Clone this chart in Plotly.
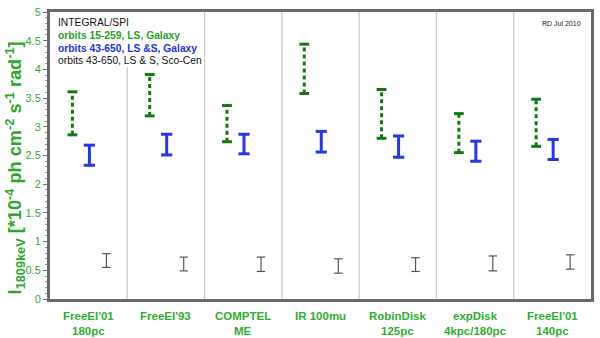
import plotly.graph_objects as go

# ---- data ----
cat_line1 = ["FreeEl'01", "FreeEl'93", "COMPTEL", "IR 100mu", "RobinDisk", "expDisk", "FreeEl'01"]
cat_line2 = ["180pc", "", "ME", "", "125pc", "4kpc/180pc", "140pc"]

green_lo = [2.86, 3.19, 2.74, 3.58, 2.80, 2.55, 2.66]
green_hi = [3.61, 3.91, 3.37, 4.44, 3.65, 3.23, 3.48]
blue_lo = [2.33, 2.51, 2.53, 2.56, 2.47, 2.40, 2.43]
blue_hi = [2.68, 2.87, 2.87, 2.92, 2.84, 2.75, 2.78]
black_lo = [0.55, 0.49, 0.48, 0.45, 0.48, 0.49, 0.52]
black_hi = [0.79, 0.73, 0.73, 0.70, 0.72, 0.75, 0.77]

y_ticks = [0, 0.5, 1, 1.5, 2, 2.5, 3, 3.5, 4, 4.5, 5]

legend_lines = [
    ("INTEGRAL/SPI", "#111111", False),
    ("orbits 15-259, LS, Galaxy", "#2aa02a", True),
    ("orbits 43-650, LS &S, Galaxy", "#2233e0", True),
    ("orbits 43-650, LS & S, Sco-Cen", "#111111", False),
]

LABEL_GREEN = "#2fae2f"
FONT = "Liberation Sans, Arial, sans-serif"

n = len(cat_line1)
idx = list(range(n))


def seg(xs, lo, hi):
    X, Y = [], []
    for x, a, b in zip(xs, lo, hi):
        X += [x, x, None]
        Y += [a, b, None]
    return X, Y


fig = go.Figure()

series = [
    (-0.21, green_lo, green_hi, "#127812", 3, "4px,3px", 7),
    (0.01, blue_lo, blue_hi, "#2436ee", 3, "solid", 8),
    (0.23, black_lo, black_hi, "#555555", 1.2, "solid", 6),
]
for off, lo, hi, col, w, dash, capw in series:
    xs = [i + off for i in idx]
    X, Y = seg(xs, lo, hi)
    fig.add_trace(go.Scatter(x=X, y=Y, mode="lines",
                             line=dict(color=col, width=w, dash=dash),
                             hoverinfo="skip", showlegend=False))
    fig.add_trace(go.Scatter(x=xs + xs, y=lo + hi, mode="markers",
                             marker=dict(symbol="line-ew", size=capw,
                                         line=dict(color=col, width=w if w > 2 else 1.2)),
                             hoverinfo="skip", showlegend=False))

shapes = []
for i in range(n - 1):
    shapes.append(dict(type="line", xref="x", yref="paper", x0=i + 0.5, x1=i + 0.5,
                       y0=0, y1=1, line=dict(color="#c9c9c9", width=1.2), layer="below"))
# legend box
shapes.append(dict(type="rect", xref="x", yref="paper", x0=-0.5, x1=1.49, y0=0.808, y1=1,
                   fillcolor="white", line=dict(width=0), layer="below"))

annotations = []
for k, (txt, col, bold) in enumerate(legend_lines):
    annotations.append(dict(
        xref="paper", yref="paper", x=0, y=1, xanchor="left", yanchor="middle",
        xshift=6, yshift=-10.5 - 12.8 * k, showarrow=False,
        text=f"<b>{txt}</b>" if bold else txt,
        font=dict(family=FONT, size=10.3, color=col)))

annotations.append(dict(xref="paper", yref="paper", x=1, y=1, xanchor="right", yanchor="middle",
                        xshift=-8, yshift=-11, showarrow=False, text="RD Jul 2010",
                        font=dict(family=FONT, size=7, color="#222222")))

for i in idx:
    annotations.append(dict(xref="x", yref="paper", x=i, y=0, yanchor="middle",
                            yshift=-17, showarrow=False, text=f"<b>{cat_line1[i]}</b>",
                            font=dict(family=FONT, size=11.5, color=LABEL_GREEN)))
    if cat_line2[i]:
        annotations.append(dict(xref="x", yref="paper", x=i, y=0, yanchor="middle",
                                yshift=-32, showarrow=False, text=f"<b>{cat_line2[i]}</b>",
                                font=dict(family=FONT, size=11.5, color=LABEL_GREEN)))

annotations.append(dict(
    xref="paper", yref="paper", x=0, y=0.455, xanchor="center", yanchor="middle",
    xshift=-35, textangle=-90, showarrow=False,
    text="<b>I<sub>1809keV</sub> [*10<sup>-4</sup> ph cm<sup>-2</sup> s<sup>-1</sup> rad<sup>-1</sup>]</b>",
    font=dict(family=FONT, size=18.2, color="#2aa82a")))

fig.update_layout(
    width=600, height=338,
    margin=dict(l=50, r=6, t=6, b=39),
    paper_bgcolor="white", plot_bgcolor="white",
    showlegend=False,
    shapes=shapes, annotations=annotations,
    xaxis=dict(range=[-0.5, n - 0.5], tickvals=idx, showticklabels=False,
               showgrid=False, zeroline=False, showline=True, mirror=True,
               linecolor="#6a6a6a", linewidth=3, ticks=""),
    yaxis=dict(range=[0, 5], tickvals=y_ticks, ticktext=[f"{v:g}" for v in y_ticks],
               showgrid=False, zeroline=False, showline=True, mirror=True,
               linecolor="#6a6a6a", linewidth=3, ticks="outside", ticklen=4,
               tickcolor="#707070", tickwidth=1,
               minor=dict(dtick=0.1, ticks="outside", ticklen=2, tickcolor="#909090"),
               tickfont=dict(family=FONT, size=11, color=LABEL_GREEN)),
)

fig.write_html("out.html", config={"displayModeBar": False},
               post_script="document.body.style.margin='0';")
